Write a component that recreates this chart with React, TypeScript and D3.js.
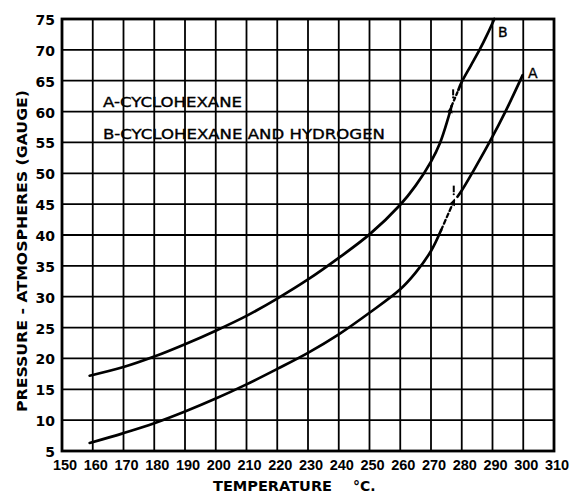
import React from "react";
import * as d3 from "d3";

const xTicks = [150, 160, 170, 180, 190, 200, 210, 220, 230, 240, 250, 260, 270, 280, 290, 300, 310];
const yTicks = [5, 10, 15, 20, 25, 30, 35, 40, 45, 50, 55, 60, 65, 70, 75];

// Curve A - cyclohexane
const aSolid1: [number, number][] = [
  [159, 6.3], [170, 7.9], [180, 9.5], [190, 11.4], [200, 13.5], [210, 15.8], [220, 18.3],
  [230, 20.9], [240, 23.9], [250, 27.4], [260, 31.2], [265, 33.9], [270, 37.4], [273.3, 40.8],
];
const aDashed: [number, number][] = [[273.3, 40.8], [275.5, 43.3], [277.8, 45.9]];
const aSolid2: [number, number][] = [
  [278.6, 46.2], [280, 47.2], [283.8, 50.4], [289.2, 55.2], [294.4, 60.2], [299.8, 65.9],
];
const aMark: [number, number, number] = [277.4, 46.6, 48.0];

// Curve B - cyclohexane and hydrogen
const bSolid1: [number, number][] = [
  [159, 17.2], [170, 18.6], [180, 20.3], [190, 22.3], [200, 24.5], [210, 26.9], [220, 29.7],
  [230, 32.8], [240, 36.3], [250, 40.1], [260, 44.9], [265, 48.0], [270, 51.9], [273, 55], [275.5, 58.8], [276.7, 60.9],
];
const bDashed: [number, number][] = [[276.7, 60.9], [278.9, 63.5]];
const bSolid2: [number, number][] = [
  [278.9, 63.5], [280, 64.8], [283, 67.5], [285.9, 70.1], [288.3, 72.5], [290.6, 75],
];
const bMark: [number, number, number] = [277.2, 62.3, 63.6];

const legendA = "A-CYCLOHEXANE";
const legendB = "B-CYCLOHEXANE AND HYDROGEN";
const xTitle = "TEMPERATURE";
const xUnit = "°C.";
const yTitle = "PRESSURE - ATMOSPHERES (GAUGE)";

export default function App() {
  const W = 575, H = 494;
  const left = 62, right = 554, top = 19, bottom = 451;
  const x = d3.scaleLinear().domain([150, 310]).range([left, right]);
  const y = d3.scaleLinear().domain([5, 75]).range([bottom, top]);
  const line = d3.line<[number, number]>().x(d => x(d[0])).y(d => y(d[1])).curve(d3.curveCatmullRom.alpha(0.5));
  const straight = d3.line<[number, number]>().x(d => x(d[0])).y(d => y(d[1]));

  const arrow = (pts: [number, number][]) => {
    const p1 = pts[pts.length - 2], p2 = pts[pts.length - 1];
    const x1 = x(p1[0]), y1 = y(p1[1]), x2 = x(p2[0]), y2 = y(p2[1]);
    const ang = Math.atan2(y2 - y1, x2 - x1);
    const L = 7, Wd = 3;
    const bx = x2 - L * Math.cos(ang), by = y2 - L * Math.sin(ang);
    const nx = -Math.sin(ang) * Wd, ny = Math.cos(ang) * Wd;
    return `M${x2},${y2}L${bx + nx},${by + ny}L${bx - nx},${by - ny}Z`;
  };

  const mark = (m: [number, number, number]) => (
    <g>
      <line x1={x(m[0])} x2={x(m[0])} y1={y(m[2])} y2={y(m[1]) - 2} stroke="#000" strokeWidth={2} />
      <circle cx={x(m[0])} cy={y(m[1])} r={1.1} fill="#000" />
    </g>
  );

  return (
    <svg width={W} height={H} style={{ position: "absolute", left: 0, top: 0, background: "#fff" }}>
      <rect x={0} y={0} width={W} height={H} fill="#fff" />
      {xTicks.map(t => (
        <line key={"vx" + t} x1={x(t)} x2={x(t)} y1={top} y2={bottom} stroke="#000" strokeWidth={1.8} />
      ))}
      {yTicks.map(t => (
        <line key={"hy" + t} x1={left} x2={right} y1={y(t)} y2={y(t)} stroke="#000" strokeWidth={1.8} />
      ))}
      <rect x={left} y={top} width={right - left} height={bottom - top} fill="none" stroke="#000" strokeWidth={2.8} />

      <text x={103} y={107} fontFamily="DejaVu Sans" fontSize={14} stroke="#000" strokeWidth={0.35} textLength={139} lengthAdjust="spacingAndGlyphs" fill="#000">{legendA}</text>
      <text x={103} y={139} fontFamily="DejaVu Sans" fontSize={14} stroke="#000" strokeWidth={0.35} textLength={282} lengthAdjust="spacingAndGlyphs" fill="#000">{legendB}</text>

      <g fill="none" stroke="#000" strokeWidth={2.7} strokeLinecap="round">
        <path d={line(aSolid1) || ""} />
        <path d={line(aDashed) || ""} strokeDasharray="4,3" strokeWidth={2.3} />
        <path d={line(aSolid2) || ""} />
        <path d={line(bSolid1) || ""} />
        <path d={straight(bDashed) || ""} strokeDasharray="3,3" strokeWidth={2.3} />
        <path d={line(bSolid2) || ""} />
      </g>
      <path d={arrow(aDashed)} fill="#000" />
      <path d={arrow(bSolid1)} fill="#000" />
      {mark(aMark)}
      {mark(bMark)}

      <text x={498} y={37} fontFamily="DejaVu Sans" fontSize={14} stroke="#000" strokeWidth={0.35} fill="#000">B</text>
      <text x={528} y={78} fontFamily="DejaVu Sans" fontSize={14} stroke="#000" strokeWidth={0.35} fill="#000">A</text>

      {yTicks.map(t => (
        <text key={"yl" + t} x={55} y={y(t) + 6} textAnchor="end" fontFamily="DejaVu Sans" fontWeight="bold" fontSize={14} fill="#000">{t}</text>
      ))}
      {xTicks.map(t => (
        <text key={"xl" + t} x={x(t) + 3} y={470} textAnchor="middle" fontFamily="Liberation Sans" fontWeight="bold" fontSize={14.5} fill="#000">{t}</text>
      ))}
      <text x={213} y={491} fontFamily="DejaVu Sans" fontWeight="bold" fontSize={14} textLength={119} lengthAdjust="spacingAndGlyphs" fill="#000">{xTitle}</text>
      <text x={353} y={491} fontFamily="DejaVu Sans" fontWeight="bold" fontSize={14} fill="#000">{xUnit}</text>
      <text transform={`translate(27,251) rotate(-90)`} textAnchor="middle" fontFamily="DejaVu Sans" fontWeight="bold" fontSize={14} textLength={322} lengthAdjust="spacingAndGlyphs" fill="#000">{yTitle}</text>
    </svg>
  );
}
